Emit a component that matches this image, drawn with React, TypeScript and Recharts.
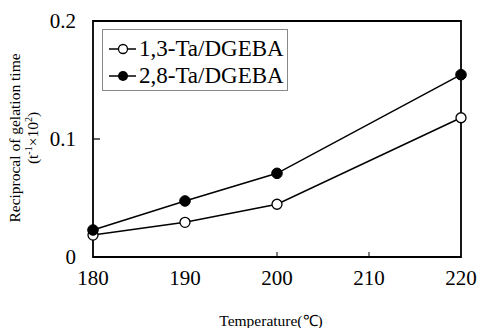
import React from 'react';
import { LineChart, Line, XAxis, YAxis, ReferenceArea, Legend } from 'recharts';

const temperatures = [180, 190, 200, 210, 220];
const series13 = [0.0186, 0.0294, 0.0447, null, 0.118];
const series28 = [0.0229, 0.0475, 0.0709, null, 0.1545];
const xTicks = [180, 190, 200, 210, 220];
const yTicks = [0, 0.1, 0.2];
const yTickLabels = ['0', '0.1', '0.2'];
const seriesNames = ['1,3-Ta/DGEBA', '2,8-Ta/DGEBA'];

const data = temperatures.map((t, i) => ({ t, a: series13[i], b: series28[i] }));

const FONT = '"Liberation Serif", "Times New Roman", serif';

const XTick = (props: any) => {
  const { x, y, payload } = props;
  const v = payload.value;
  const showLine = v === 200 || v === 210;
  return (
    <g>
      {showLine && <line x1={x} x2={x} y1={y} y2={y - 5} stroke="#000" strokeWidth={1} />}
      <text x={x} y={y + 28} textAnchor="middle" fontFamily={FONT} fontSize={21} fill="#000">{v}</text>
    </g>
  );
};

const YTick = (props: any) => {
  const { x, y, payload, index } = props;
  const v = payload.value;
  const showLine = v !== 0 && v !== 0.2;
  const idx = yTicks.indexOf(v);
  return (
    <g>
      {showLine && <line x1={x} x2={x + 7} y1={y} y2={y} stroke="#000" strokeWidth={1.2} />}
      <text x={x - 17} y={y + 7} textAnchor="end" fontFamily={FONT} fontSize={21} fill="#000">{yTickLabels[idx >= 0 ? idx : index]}</text>
    </g>
  );
};

const OpenDot = (props: any) => {
  const { cx, cy } = props;
  if (cx == null || cy == null) return null;
  return <circle cx={cx} cy={cy} r={5} fill="#fff" stroke="#000" strokeWidth={1.3} />;
};
const FilledDot = (props: any) => {
  const { cx, cy } = props;
  if (cx == null || cy == null) return null;
  return <circle cx={cx} cy={cy} r={5.3} fill="#000" stroke="#000" strokeWidth={1} />;
};

const LegendBox = () => (
  <div
    style={{
      position: 'absolute',
      left: 102,
      top: 29,
      width: 186,
      height: 62,
      border: '1px solid #888',
      boxSizing: 'border-box',
      background: '#fff',
      fontFamily: FONT,
      fontSize: 23,
      color: '#000',
    }}
  >
    {seriesNames.map((name, i) => (
      <div key={name} style={{ position: 'absolute', left: 0, top: i === 0 ? 7 : 34, height: 24, width: 184 }}>
        <svg width={30} height={24} style={{ position: 'absolute', left: 5, top: 0 }}>
          <line x1={1} x2={28} y1={12} y2={12} stroke="#000" strokeWidth={1.5} />
          {i === 0 ? (
            <circle cx={15} cy={12} r={4.5} fill="#fff" stroke="#000" strokeWidth={1.3} />
          ) : (
            <circle cx={15} cy={12} r={5} fill="#000" />
          )}
        </svg>
        <span style={{ position: 'absolute', left: 36, top: 0, lineHeight: '24px', whiteSpace: 'nowrap' }}>{name}</span>
      </div>
    ))}
  </div>
);

const YLabel = () => (
  <g>
    <text
      transform="translate(20,138) rotate(-90)"
      textAnchor="middle"
      fontFamily={FONT}
      fontSize={15.5}
      fill="#000"
    >
      Reciprocal of gelation time
    </text>
    <text
      transform="translate(38,138) rotate(-90)"
      textAnchor="middle"
      fontFamily={FONT}
      fontSize={15.5}
      fill="#000"
    >
      (t<tspan fontSize={10} dy={-6}>-1</tspan><tspan dy={6}>×10</tspan><tspan fontSize={10} dy={-6}>2</tspan><tspan dy={6}>)</tspan>
    </text>
  </g>
);

const XLabel = () => (
  <text x={271} y={326} textAnchor="middle" fontFamily={FONT} fontSize={15.5} fill="#000">
    Temperature(℃)
  </text>
);

export default function App() {
  return (
    <div style={{ position: 'absolute', left: 0, top: 0, width: 480, height: 328, background: '#fff' }}>
      <LineChart
        width={480}
        height={328}
        data={data}
        margin={{ top: 21, right: 19, bottom: 41, left: 33 }}
      >
        <XAxis
          dataKey="t"
          type="number"
          domain={[180, 220]}
          ticks={xTicks}
          axisLine={false}
          tickLine={false}
          tickSize={0}
          tickMargin={0}
          height={30}
          tick={<XTick />}
          interval={0}
          label={<XLabel />}
        />
        <YAxis
          type="number"
          domain={[0, 0.2]}
          ticks={yTicks}
          axisLine={false}
          tickLine={false}
          tickSize={0}
          tickMargin={0}
          width={60}
          tick={<YTick />}
          interval={0}
          label={<YLabel />}
        />
        <ReferenceArea x1={180} x2={220} y1={0} y2={0.2} fill="none" stroke="#000" strokeWidth={1.8} ifOverflow="visible" />
        <Line
          type="linear"
          dataKey="a"
          stroke="#000"
          strokeWidth={1.5}
          connectNulls
          dot={<OpenDot />}
          isAnimationActive={false}
        />
        <Line
          type="linear"
          dataKey="b"
          stroke="#000"
          strokeWidth={1.5}
          connectNulls
          dot={<FilledDot />}
          isAnimationActive={false}
        />
        <Legend content={<LegendBox />} wrapperStyle={{ position: 'absolute', left: 0, top: 0, width: 0, height: 0 }} />
      </LineChart>
    </div>
  );
}
